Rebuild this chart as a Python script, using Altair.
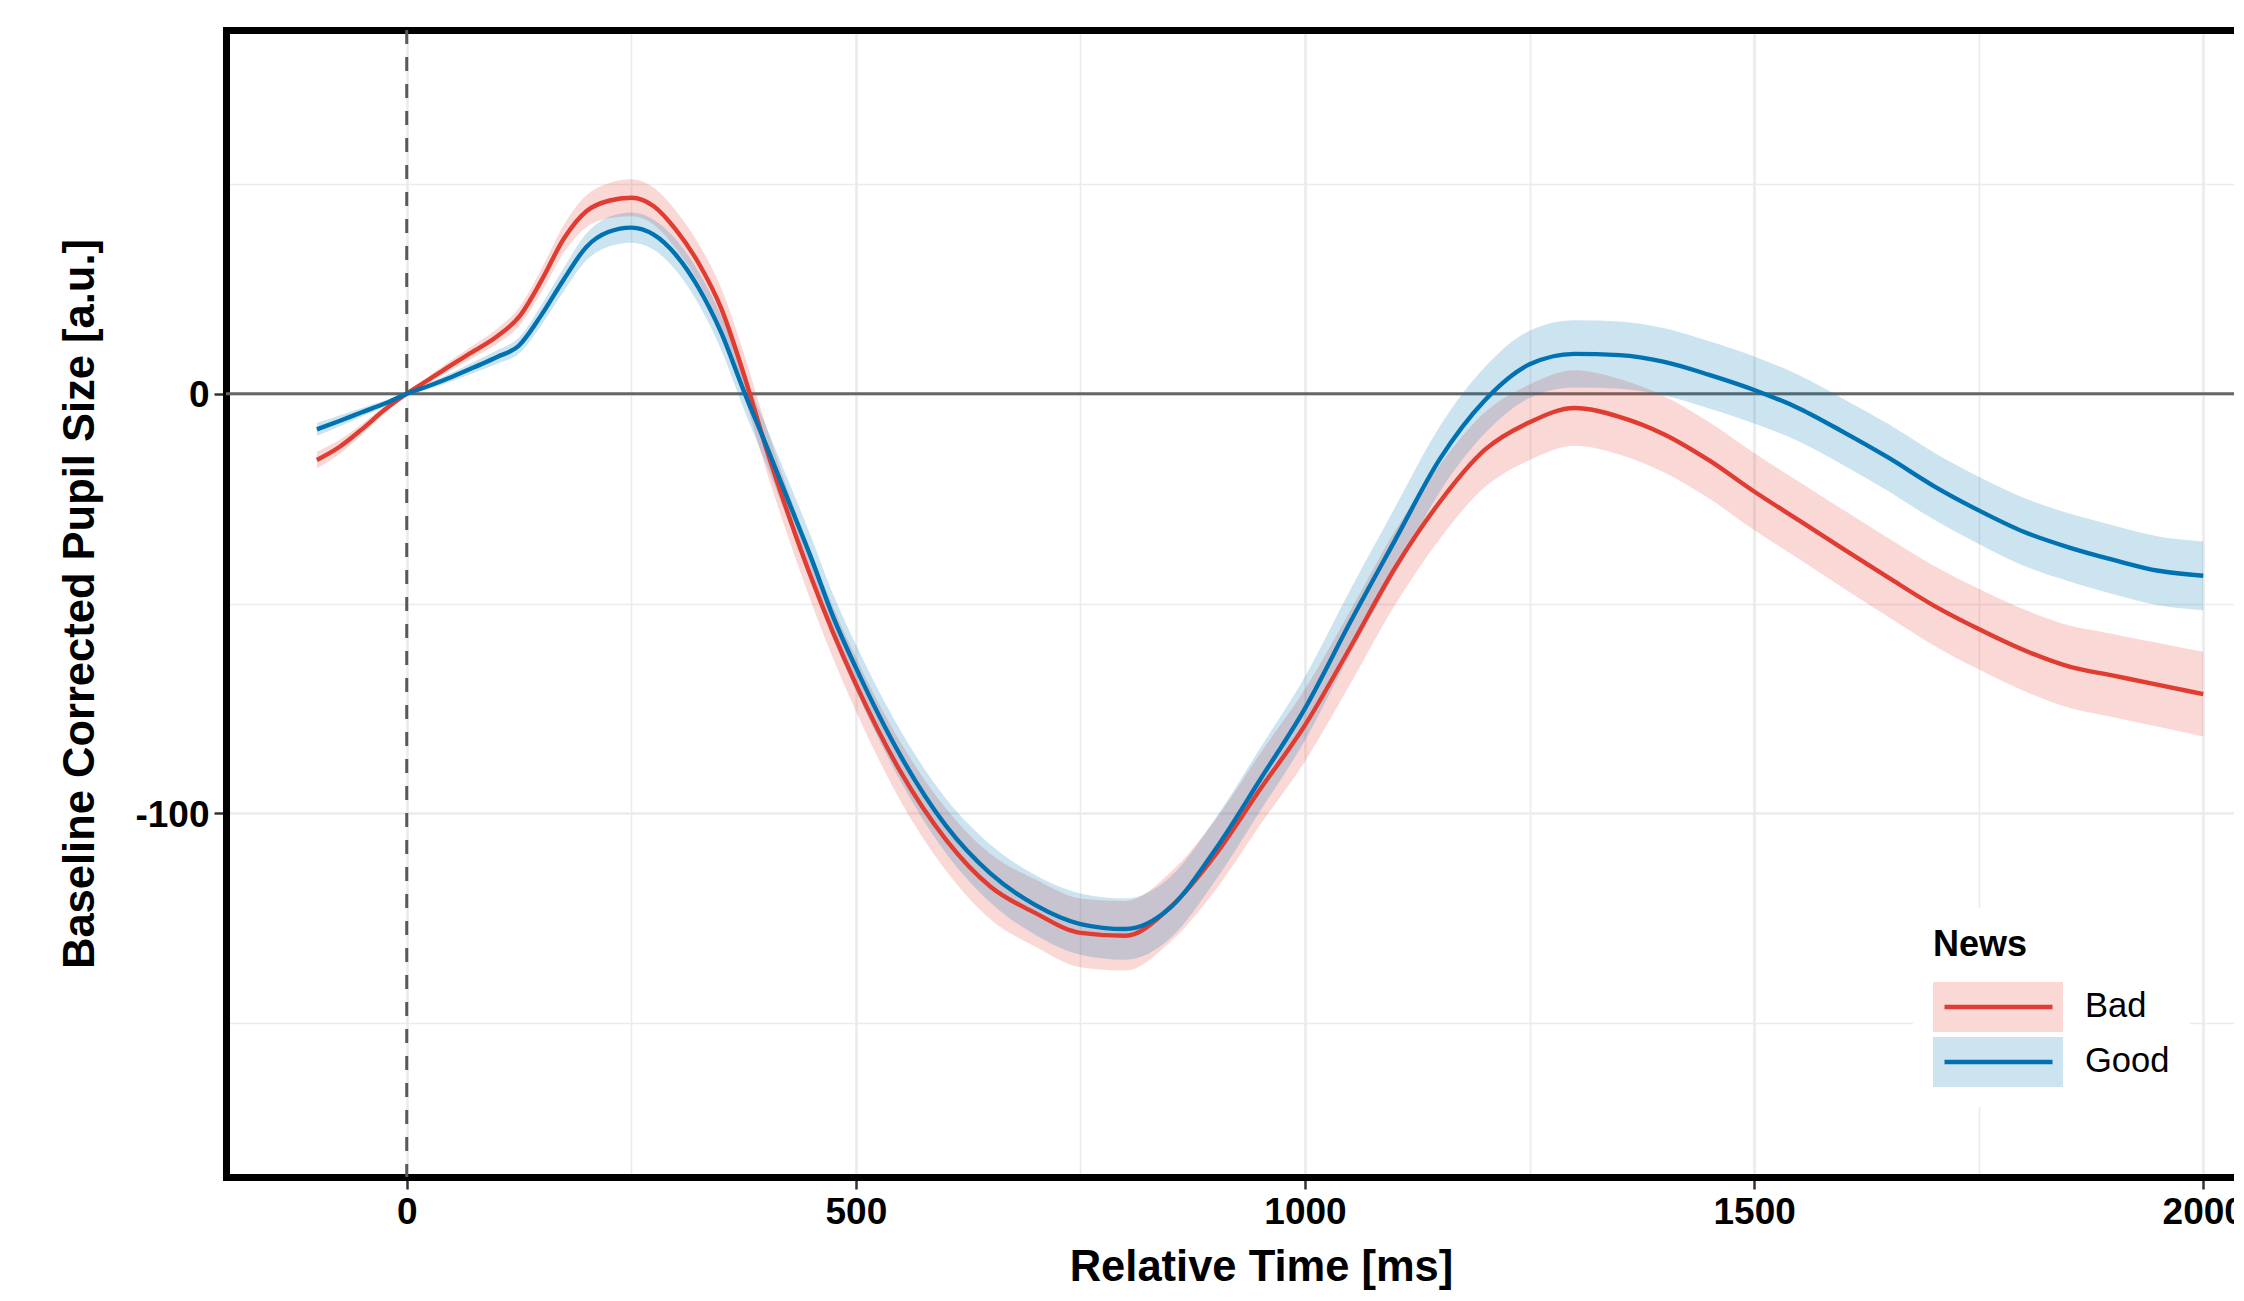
import altair as alt
import pandas as pd

# ---- data ----
time_ms = [-100, -75, -50, -25, 0, 25, 50, 75, 100, 125, 150, 175, 200, 225, 250, 275,
           300, 325, 350, 375, 400, 425, 450, 475, 500, 550, 600, 650, 700, 750, 800,
           850, 900, 950, 1000, 1050, 1100, 1150, 1200, 1250, 1300, 1350, 1400, 1450,
           1500, 1550, 1600, 1650, 1700, 1750, 1800, 1850, 1900, 1950, 2000]

bad_mean = [-15.8, -12.7, -8.5, -3.9, 0.0, 3.4, 6.9, 10.2, 13.6, 18.3, 27.0, 37.0, 43.5,
            46.0, 46.7, 44.7, 39.0, 31.1, 20.4, 4.8, -12.9, -28.9, -43.7, -57.1, -69.2,
            -90.2, -106.2, -117.5, -123.8, -128.5, -129.2, -122.4, -110.0, -94.3, -79.0,
            -60.6, -41.6, -25.8, -13.4, -6.8, -3.4, -5.5, -9.7, -15.9, -23.3, -30.2,
            -37.1, -43.9, -50.5, -56.1, -61.1, -65.0, -67.2, -69.4, -71.6]

good_mean = [-8.5, -6.5, -4.4, -2.4, 0.0, 1.9, 4.0, 6.3, 8.7, 11.5, 18.8, 27.3, 35.0,
             38.6, 39.6, 37.9, 33.0, 25.2, 14.6, 0.8, -12.2, -25.6, -39.0, -53.3, -65.3,
             -86.4, -102.9, -114.4, -121.9, -126.4, -127.6, -122.5, -108.7, -92.0, -75.0,
             -54.6, -35.0, -15.6, -1.6, 7.0, 9.5, 9.2, 7.6, 4.5, 0.9, -3.5,
             -9.2, -15.3, -22.0, -27.8, -32.9, -36.6, -39.6, -42.2, -43.4]

bad_ci = [2.0, 1.7, 1.3, 0.8, 0.3, 0.8, 1.2, 1.5, 1.8, 2.2, 2.8, 3.3, 3.8, 4.2, 4.4, 4.4,
          4.5, 4.6, 4.8, 5.0, 5.2, 5.5, 5.8, 6.1, 6.4, 7.0, 7.4, 7.8, 8.0, 8.2, 8.3, 8.3,
          8.4, 8.5, 8.6, 8.7, 8.8, 8.8, 8.9, 9.0, 9.0, 9.0, 9.1, 9.1, 9.2, 9.2, 9.3, 9.4,
          9.5, 9.6, 9.7, 9.8, 9.9, 10.0, 10.1]

good_ci = [1.5, 1.3, 1.0, 0.7, 0.3, 0.7, 1.0, 1.3, 1.6, 1.9, 2.4, 2.8, 3.2, 3.5, 3.6, 3.6,
           3.7, 3.9, 4.1, 4.3, 4.5, 4.8, 5.0, 5.3, 5.5, 6.0, 6.5, 6.9, 7.1, 7.3, 7.3, 7.3,
           7.4, 7.5, 7.6, 7.7, 7.8, 7.8, 7.9, 8.0, 8.0, 8.0, 8.0, 8.0, 8.0, 7.9, 7.9, 8.0,
           8.0, 8.0, 8.1, 8.1, 8.2, 8.2, 8.2]

news_levels = ["Bad", "Good"]
news_colors = ["#E03C32", "#0072B2"]

x_major = [0, 500, 1000, 1500, 2000]
x_minor = [250, 750, 1250, 1750]
y_major = [0, -100]
y_minor = [50, -50, -150]
zero_line = [0]
onset_line = [0]

# ---- build table ----
rows = []
for name, means, cis in (("Bad", bad_mean, bad_ci), ("Good", good_mean, good_ci)):
    for t, m, c in zip(time_ms, means, cis):
        rows.append({"t": t, "News": name, "Group": name,
                     "mean": m, "lo": m - c, "hi": m + c})
df = pd.DataFrame(rows)

FONT = "Liberation Sans"
W, H = 2008, 1147
x_scale = alt.Scale(domain=[-201.2, 2034.2], nice=False, zero=False)
y_scale = alt.Scale(domain=[-186.7, 86.7], nice=False, zero=False)

x_axis_main = alt.Axis(
    orient="bottom", values=x_major, labelExpr="'' + datum.value",
    grid=True, gridColor="#EBEBEB", gridWidth=2.6,
    domain=True, domainColor="black", domainWidth=7, domainCap="square",
    ticks=True, tickColor="#333333", tickWidth=2.5, tickSize=12,
    labelPadding=5, labelFont=FONT, labelFontSize=37, labelFontWeight="bold",
    labelColor="black", labelFlush=False,
    title="Relative Time [ms]", titleFont=FONT, titleFontSize=43.5,
    titleFontWeight="bold", titleColor="black",
    titleX=1035, titleY=103, titleBaseline="alphabetic", titleAlign="center")

y_axis_main = alt.Axis(
    orient="left", values=y_major, labelExpr="'' + datum.value",
    grid=True, gridColor="#EBEBEB", gridWidth=2.6,
    domain=True, domainColor="black", domainWidth=7, domainCap="square",
    ticks=True, tickColor="#333333", tickWidth=2.5, tickSize=12,
    labelPadding=5, labelFont=FONT, labelFontSize=37, labelFontWeight="bold",
    labelColor="black", labelFlush=False, labelOffset=2,
    title="Baseline Corrected Pupil Size [a.u.]", titleFont=FONT,
    titleFontSize=43.5, titleFontWeight="bold", titleColor="black",
    titleAngle=270, titleX=-133, titleY=H / 2, titleBaseline="alphabetic",
    titleAlign="center")

x_axis_minor = alt.Axis(
    orient="top", values=x_minor, grid=True, gridColor="#EBEBEB", gridWidth=1.6,
    labels=False, ticks=False, domain=True, domainColor="black", domainWidth=7,
    domainCap="square", title=None)

y_axis_minor = alt.Axis(
    orient="right", values=y_minor, grid=True, gridColor="#EBEBEB", gridWidth=1.6,
    labels=False, ticks=False, domain=False, title=None)

hline = alt.Chart(pd.DataFrame({"v": zero_line})).mark_rule(
    color="#666666", strokeWidth=3).encode(
    y=alt.Y("v:Q", scale=y_scale, axis=None))

vline = alt.Chart(pd.DataFrame({"t": onset_line})).mark_rule(
    color="#595959", strokeWidth=3, strokeDash=[14, 13]).encode(
    x=alt.X("t:Q", scale=x_scale, axis=None))

ribbon = alt.Chart(df).mark_area(opacity=0.2, interpolate="monotone").encode(
    x=alt.X("t:Q", scale=x_scale, axis=x_axis_main),
    y=alt.Y("lo:Q", scale=y_scale, axis=y_axis_main),
    y2="hi:Q",
    fill=alt.Fill("News:N", scale=alt.Scale(domain=news_levels, range=news_colors),
                  legend=alt.Legend(
                      orient="none", legendX=1687, legendY=878, direction="vertical",
                      title="News", titleFont=FONT, titleFontSize=36,
                      titleFontWeight="bold", titleColor="black", titlePadding=18,
                      labelFont=FONT, labelFontSize=34.5, labelColor="black",
                      labelOffset=22,
                      symbolType="M-1,-0.3846H1V0.3846H-1Z", symbolSize=16900,
                      symbolStrokeWidth=0, symbolOpacity=0.2,
                      clipHeight=50, rowPadding=5, padding=20, fillColor="white")),
)

# stroke scale takes its domain from the data field "Group" (distinct from the
# fill legend's field) so the two legends stay separate and can be overlaid
lines = alt.Chart(df).mark_line(strokeWidth=4.4, interpolate="monotone").encode(
    x=alt.X("t:Q", scale=x_scale, axis=x_axis_minor),
    y=alt.Y("mean:Q", scale=y_scale, axis=y_axis_minor),
    stroke=alt.Stroke("Group:N", scale=alt.Scale(range=news_colors),
                      legend=alt.Legend(
                          orient="none", legendX=1716, legendY=952,
                          direction="vertical", title=None, labelExpr="''",
                          symbolType="stroke", symbolSize=11664, symbolStrokeWidth=4.4,
                          clipHeight=50, rowPadding=5, padding=0)),
)

chart = alt.layer(hline, vline, ribbon, lines).resolve_axis(
    x="independent", y="independent"
).properties(
    width=W, height=H,
    padding={"left": 218, "top": 22, "right": 0, "bottom": 113},
    autosize=alt.AutoSizeParams(type="none"),
    background="white",
).configure_view(stroke=None)

chart.save("out.html", embed_options={"renderer": "svg", "actions": False})
